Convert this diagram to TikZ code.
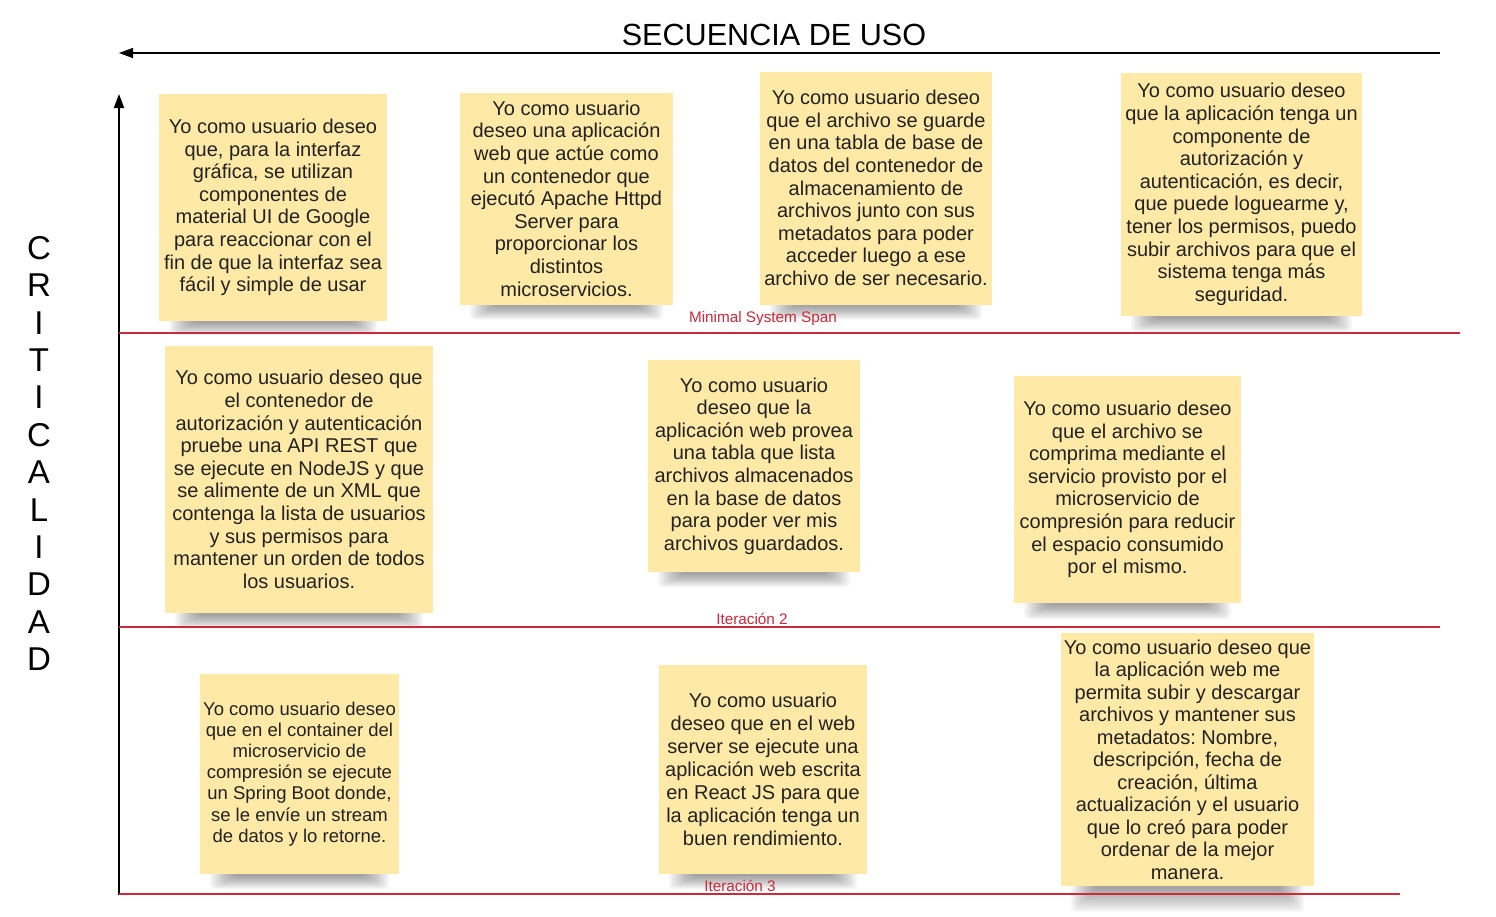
\documentclass[tikz,border=0pt]{standalone}
\usepackage{fontspec}
\setmainfont{Liberation Sans}
\usetikzlibrary{arrows.meta,calc}
\definecolor{notefill}{RGB}{255,233,166}
\definecolor{notetext}{RGB}{34,34,34}
\definecolor{spanred}{RGB}{204,41,58}
\pgfdeclarelayer{bg}
\pgfsetlayers{bg,main}
\tikzset{
  note/.style={fill=notefill, draw=none, inner sep=0pt, align=center,
    text=notetext, font=\fontsize{20}{22.6}\selectfont},
  spanline/.style={draw=spanred, line width=2pt},
  spanlabel/.style={text=spanred, inner sep=0pt, font=\fontsize{15.3}{17}\selectfont},
  axis/.style={draw=black, line width=2pt, -{Triangle[length=14pt,width=10pt]}},
}
\newcommand\noteshadow[2]{%
  \foreach \k in {0,...,15}{%
    \fill[black, opacity=0.028, rounded corners=4pt]
      ([xshift={(10+1.6*\k)*1pt}, yshift=30pt]#1.south west) rectangle
      ([xshift={-(10+1.6*\k)*1pt}, yshift={-(#2-\k*#2/17)*1pt}]#1.south east);
  }}
\begin{document}
\frenchspacing
\begin{tikzpicture}[x=1pt,y=-1pt]
\useasboundingbox (0,0) rectangle (1496,916);

% title and axes
\node[inner sep=0pt, font=\fontsize{30.6}{34}\selectfont] (title) at (774,35) {SECUENCIA DE USO};
\coordinate (hs) at (1440,53);
\coordinate (he) at (119,53);
\draw[axis, line width=1.2pt] (hs) -- (he);
\coordinate (vs) at (119,895);
\coordinate (ve) at (119,94);
\draw[axis] (vs) -- (ve);
\node[inner sep=0pt, align=center, font=\fontsize{33}{37.4}\selectfont] (crit) at (39,453.5)
  {C\\R\\I\\T\\I\\C\\A\\L\\I\\D\\A\\D};

% span lines
\coordinate (l1a) at (119,333); \coordinate (l1b) at (1460,333);
\coordinate (l2a) at (119,627); \coordinate (l2b) at (1440,627);
\coordinate (l3a) at (119,894); \coordinate (l3b) at (1400,894);
\draw[spanline] (l1a) -- (l1b);
\draw[spanline] (l2a) -- (l2b);
\draw[spanline, line width=1.3pt] (l3a) -- (l3b);
\node[spanlabel] (lab1) at (763,319) {Minimal System Span};
\node[spanlabel] (lab2) at (752,619) {Iteración 2};
\node[spanlabel] (lab3) at (740,886) {Iteración 3};

% notes
\node[note, minimum width=228pt, minimum height=227pt] (n1) at (273,207.5)
  {Yo como usuario deseo\\que, para la interfaz\\gráfica, se utilizan\\componentes de\\material UI de Google\\para reaccionar con el\\fin de que la interfaz sea\\fácil y simple de usar};
\node[note, minimum width=213pt, minimum height=212pt] (n2) at (566.5,198.5)
  {Yo como usuario\\deseo una aplicación\\web que actúe como\\un contenedor que\\ejecutó Apache Httpd\\Server para\\proporcionar los\\distintos\\microservicios.};
\node[note, minimum width=232pt, minimum height=233pt] (n3) at (876,188)
  {Yo como usuario deseo\\que el archivo se guarde\\en una tabla de base de\\datos del contenedor de\\almacenamiento de\\archivos junto con sus\\metadatos para poder\\acceder luego a ese\\archivo de ser necesario.};
\node[note, minimum width=241pt, minimum height=243pt] (n4) at (1241.5,194.5)
  {Yo como usuario deseo\\que la aplicación tenga un\\componente de\\autorización y\\autenticación, es decir,\\que puede loguearme y,\\tener los permisos, puedo\\subir archivos para que el\\sistema tenga más\\seguridad.};
\node[note, minimum width=268pt, minimum height=267pt] (n5) at (299,479.5)
  {Yo como usuario deseo que\\el contenedor de\\autorización y autenticación\\pruebe una API REST que\\se ejecute en NodeJS y que\\se alimente de un XML que\\contenga la lista de usuarios\\y sus permisos para\\mantener un orden de todos\\los usuarios.};
\node[note, minimum width=212pt, minimum height=212pt] (n6) at (754,466)
  {Yo como usuario\\deseo que la\\aplicación web provea\\una tabla que lista\\archivos almacenados\\en la base de datos\\para poder ver mis\\archivos guardados.};
\node[note, minimum width=227pt, minimum height=227pt] (n7) at (1127.5,489.5)
  {Yo como usuario deseo\\que el archivo se\\comprima mediante el\\servicio provisto por el\\microservicio de\\compresión para reducir\\el espacio consumido\\por el mismo.};
\node[note, minimum width=199pt, minimum height=200pt, font=\fontsize{18.5}{21.2}\selectfont] (n8) at (299.5,774)
  {Yo como usuario deseo\\que en el container del\\microservicio de\\compresión se ejecute\\un Spring Boot donde,\\se le envíe un stream\\de datos y lo retorne.};
\node[note, minimum width=208pt, minimum height=209pt, font=\fontsize{20}{23.1}\selectfont] (n9) at (763,769.5)
  {Yo como usuario\\deseo que en el web\\server se ejecute una\\aplicación web escrita\\en React JS para que\\la aplicación tenga un\\buen rendimiento.};
\node[note, minimum width=253pt, minimum height=253pt, font=\fontsize{20}{22.5}\selectfont] (n10) at (1187.5,759.5)
  {Yo como usuario deseo que\\la aplicación web me\\permita subir y descargar\\archivos y mantener sus\\metadatos: Nombre,\\descripción, fecha de\\creación, última\\actualización y el usuario\\que lo creó para poder\\ordenar de la mejor\\manera.};

% shadows
\begin{pgfonlayer}{bg}
  \noteshadow{n1}{14}
  \noteshadow{n2}{15}
  \noteshadow{n3}{15}
  \noteshadow{n4}{16}
  \noteshadow{n5}{16}
  \noteshadow{n6}{15}
  \noteshadow{n7}{16}
  \noteshadow{n8}{15}
  \noteshadow{n9}{15}
  \noteshadow{n10}{26}
\end{pgfonlayer}
\end{tikzpicture}
\end{document}
